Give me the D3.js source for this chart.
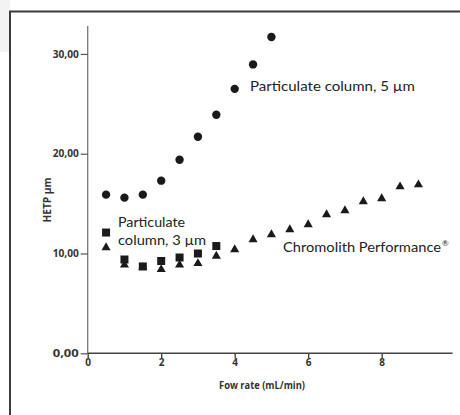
<!DOCTYPE html>
<html><head><meta charset="utf-8">
<script src="https://cdn.jsdelivr.net/npm/d3@7"></script>
<style>body{margin:0;background:#fff}svg{display:block}</style>
</head><body><svg id="c" width="460" height="415"></svg>
<script>
const xTicks = [0, 2, 4, 6, 8];
const yTicks = [0, 10, 20, 30];
const flow5 = [0.5, 1, 1.5, 2, 2.5, 3, 3.5, 4, 4.5, 5];
const hetp5 = [15.9, 15.6, 15.9, 17.3, 19.4, 21.7, 23.9, 26.5, 28.95, 31.7];
const flow3 = [0.5, 1, 1.5, 2, 2.5, 3, 3.5];
const hetp3 = [12.1, 9.4, 8.7, 9.25, 9.6, 10.0, 10.75];
const flowChr = [0.5, 1, 1.5, 2, 2.5, 3, 3.5, 4, 4.5, 5, 5.5, 6, 6.5, 7, 7.5, 8, 8.5, 9];
const hetpChr = [10.6, 8.85, 8.6, 8.4, 8.85, 9.0, 9.75, 10.4, 11.4, 11.9, 12.4, 12.9, 13.9, 14.3, 15.2, 15.5, 16.7, 16.9];
const labels = ["Particulate column, 5 µm", "Particulate", "column, 3 µm", "Chromolith Performance"];

const svg = d3.select("#c");
const font = "'Open Sans', Lato, sans-serif";
const lfont = "Lato, 'Open Sans', sans-serif";
// frame
svg.append("rect").attr("x",0).attr("y",0).attr("width",10).attr("height",52).attr("fill","#f3f3f3");
svg.append("path").attr("d","M10,415V11.5H460").attr("fill","none").attr("stroke","#3a3a3a").attr("stroke-width",2);

const x = d3.scaleLinear().domain([0, 9.93]).range([87.7, 452.6]);
const y = d3.scaleLinear().domain([0, 32.8]).range([353.3, 26]);

const ya = svg.append("g").attr("transform","translate(87.7,0)")
  .call(d3.axisLeft(y).tickValues(yTicks).tickSize(7).tickPadding(2).tickFormat(d=>d3.format(".2f")(d).replace(".",",")));
ya.select(".domain").attr("stroke","#777").attr("stroke-width",1.3).attr("d","M0,353.3V26");
ya.selectAll(".tick line").attr("stroke","#555").attr("stroke-width",1.2);
ya.selectAll("text").attr("font-family",font).attr("font-size",10).attr("font-weight","bold").attr("fill","#333").attr("textLength",26).attr("lengthAdjust","spacingAndGlyphs");

const xa = svg.append("g").attr("transform","translate(0,353.3)")
  .call(d3.axisBottom(x).tickValues(xTicks).tickSize(5).tickPadding(1).tickFormat(d3.format("d")));
xa.select(".domain").attr("stroke","#444").attr("stroke-width",1.4).attr("d","M87.7,0H452.6");
xa.selectAll(".tick line").attr("stroke","#444").attr("stroke-width",1.4);
xa.selectAll("text").attr("font-family",font).attr("font-size",10).attr("font-weight","bold").attr("fill","#333");

svg.append("text").attr("x",262).attr("y",389).attr("text-anchor","middle")
  .attr("font-family",font).attr("font-size",10).attr("font-weight","bold").attr("fill","#333")
  .attr("textLength",86).attr("lengthAdjust","spacingAndGlyphs")
  .text("Fow rate (mL/min)");
svg.append("text").attr("transform","translate(51,200) rotate(-90)").attr("text-anchor","middle")
  .attr("font-family",font).attr("font-size",10).attr("font-weight","bold").attr("fill","#333")
  .attr("textLength",45).attr("lengthAdjust","spacingAndGlyphs")
  .text("HETP µm");

const ink = "#1a1a1a";
// triangles first (behind squares)
svg.append("g").selectAll("path").data(flowChr.map((f,i)=>[f,hetpChr[i]])).join("path")
  .attr("transform",d=>`translate(${x(d[0])},${y(d[1])})`)
  .attr("d",d3.symbol(d3.symbolTriangle, 36)).attr("fill",ink);
svg.append("g").selectAll("rect").data(flow3.map((f,i)=>[f,hetp3[i]])).join("rect")
  .attr("x",d=>x(d[0])-4).attr("y",d=>y(d[1])-4).attr("width",8).attr("height",8).attr("fill",ink);
svg.append("g").selectAll("circle").data(flow5.map((f,i)=>[f,hetp5[i]])).join("circle")
  .attr("cx",d=>x(d[0])).attr("cy",d=>y(d[1])).attr("r",4.2).attr("fill",ink);

const lab = (t,xx,yy,w)=>svg.append("text").attr("x",xx).attr("y",yy)
  .attr("font-family",lfont).attr("font-size",14).attr("fill","#222")
  .attr("textLength",w).attr("lengthAdjust","spacingAndGlyphs").text(t);
lab(labels[0],250,91,165);
lab(labels[1],118,227,67);
lab(labels[2],118,244.5,88);
lab(labels[3],283,252,158);
svg.append("text").attr("x",442).attr("y",245.5).attr("font-family",lfont).attr("font-size",8).attr("fill","#222").text("®");
</script></body></html>
